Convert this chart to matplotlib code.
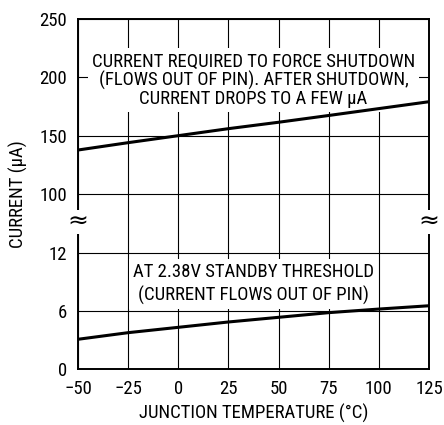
import numpy as np
import matplotlib
matplotlib.use('Agg')
import matplotlib.pyplot as plt

# Datos
temps = [-50, -25, 0, 25, 50, 75, 100, 125]
shutdown_current = [137.7, 144.0, 150.0, 156.0, 161.5, 167.3, 173.2, 179.1]
standby_current = [3.09, 3.77, 4.32, 4.87, 5.35, 5.83, 6.20, 6.54]
x_ticks = [-50, -25, 0, 25, 50, 75, 100, 125]
y_ticks = [0, 6, 12, 100, 150, 200, 250]

# Escala partida: 0-12 abajo, 100-250 arriba
scale_pts = [0, 12, 100, 250]
scale_pos = [0, 116.6, 175.3, 350.3]

def forward(y):
    return np.interp(y, scale_pts, scale_pos)

def inverse(p):
    return np.interp(p, scale_pos, scale_pts)

plt.rcParams['font.family'] = ['Roboto Condensed', 'Archivo Narrow', 'Liberation Sans', 'DejaVu Sans']
plt.rcParams['font.size'] = 13.5

fig = plt.figure(figsize=(4.44, 4.25), dpi=100)
ax = fig.add_axes([78 / 444, 1 - 369.3 / 425, (429 - 78) / 444, (369.3 - 19) / 425])

ax.set_yscale('function', functions=(forward, inverse))
ax.set_xlim(-50, 125)
ax.set_ylim(0, 250)
ax.set_xticks(x_ticks)
ax.set_xticklabels([str(t).replace('-', '\u2212') for t in x_ticks])
ax.set_yticks(y_ticks)
ax.set_yticklabels([str(t) for t in y_ticks])
ax.tick_params(length=0, pad=8)
ax.tick_params(axis='y', pad=8)
ax.grid(True, color='black', linewidth=0.8)
for s in ax.spines.values():
    s.set_linewidth(1.4)

# Las curvas van por encima de los recuadros de texto
ax.plot(temps, shutdown_current, color='black', linewidth=2.2, zorder=5)
ax.plot(temps, standby_current, color='black', linewidth=2.2, zorder=5)

ax.set_xlabel('JUNCTION TEMPERATURE (\u00b0C)', labelpad=4)
ax.set_ylabel('CURRENT (\u03bcA)', labelpad=8)

box = dict(facecolor='white', edgecolor='none', pad=3)
ax.text(37.5, 197.3, 'CURRENT REQUIRED TO FORCE SHUTDOWN\n(FLOWS OUT OF PIN). AFTER SHUTDOWN,\nCURRENT DROPS TO A FEW \u03bcA',
        ha='center', va='center', linespacing=1.02, bbox=box)
ax.text(37.5, 8.8, 'AT 2.38V STANDBY THRESHOLD\n(CURRENT FLOWS OUT OF PIN)',
        ha='center', va='center', linespacing=1.33, bbox=box)

# Simbolos de corte del eje
for xa in (0, 1):
    ax.text(xa, 58, '\u2248', transform=ax.get_yaxis_transform(), ha='center', va='center',
            fontsize=18, family='DejaVu Sans', bbox=dict(facecolor='white', edgecolor='none', pad=0),
            clip_on=False)

fig.savefig('out.png', dpi=100)
